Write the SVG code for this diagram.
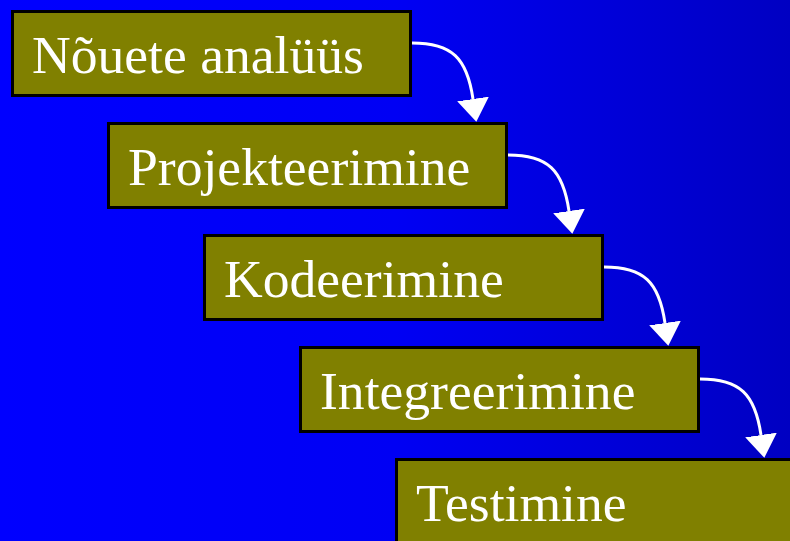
<svg xmlns="http://www.w3.org/2000/svg" width="790" height="541" viewBox="0 0 790 541">
  <defs>
    <linearGradient id="bg" x1="0" y1="0" x2="1" y2="0">
      <stop offset="0" stop-color="#0000FF"/>
      <stop offset="0.5" stop-color="#0000F4"/>
      <stop offset="1" stop-color="#0000C2"/>
    </linearGradient>
    <marker id="head" viewBox="0 -16 23 32" markerWidth="23" markerHeight="32" refX="0" refY="0" orient="auto" markerUnits="userSpaceOnUse">
      <path d="M0,-16 L23,0 L0,16 Z" fill="#FFFFFF"/>
    </marker>
    <style>
      .box { fill: #808000; stroke: #000000; stroke-width: 3; }
      .label { fill: #FFFFFF; font-family: "Liberation Serif", "Times New Roman", serif; font-size: 53.6px; }
      .flow { fill: none; stroke: #FFFFFF; stroke-width: 3; marker-end: url(#head); }
    </style>
  </defs>

  <rect x="0" y="0" width="790" height="541" fill="url(#bg)"/>

  <!-- phase boxes, each shifted by (96, 112) from the previous one -->
  <g id="noueteanaluus">
    <rect class="box" x="12.5" y="11.5" width="398" height="84"/>
    <text class="label" x="32" y="73">Nõuete analüüs</text>
  </g>
  <g id="projekteerimine">
    <rect class="box" x="108.5" y="123.5" width="398" height="84"/>
    <text class="label" x="128" y="185">Projekteerimine</text>
  </g>
  <g id="kodeerimine">
    <rect class="box" x="204.5" y="235.5" width="398" height="84"/>
    <text class="label" x="224" y="297">Kodeerimine</text>
  </g>
  <g id="integreerimine">
    <rect class="box" x="300.5" y="347.5" width="398" height="84"/>
    <text class="label" x="320" y="409">Integreerimine</text>
  </g>
  <g id="testimine">
    <rect class="box" x="396.5" y="459.5" width="398" height="84"/>
    <text class="label" x="416" y="521">Testimine</text>
  </g>

  <!-- curved connectors from each box to the next -->
  <g id="connectors">
    <path class="flow" d="M412,43 C452,43 467,58 473,99"/>
    <path class="flow" d="M508,155 C548,155 563,170 569,211"/>
    <path class="flow" d="M604,267 C644,267 659,282 665,323"/>
    <path class="flow" d="M700,379 C740,379 755,394 761,435"/>
  </g>
</svg>
